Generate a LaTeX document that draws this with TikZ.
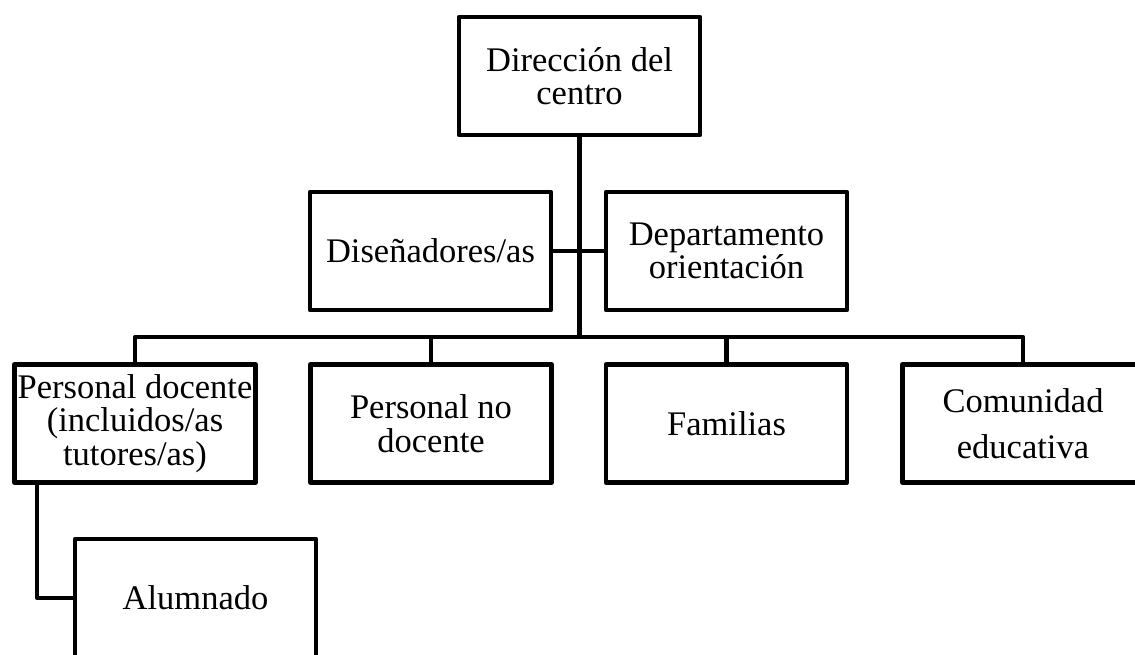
\documentclass[tikz,border=0pt]{standalone}
\usepackage{fontspec}
\setmainfont{Liberation Serif}
\begin{document}
\begin{tikzpicture}[x=1pt,y=-1pt,
  orgbox/.style={draw=black, line width=4.6pt, line join=round, fill=white,
    minimum width=241pt, minimum height=118pt, inner sep=0pt, align=center,
    font=\fontsize{34.5}{33.5}\selectfont},
  link/.style={draw=black, line width=4.4pt, line join=round}]
\path[use as bounding box] (0,0) rectangle (1135,655);
\clip (0,0) rectangle (1135,655);
\fill[white] (0,0) rectangle (1135,655);
\node[orgbox] (dir) at (579.5,76) {Dirección del\\centro};
\node[orgbox] (dis) at (430.5,251) {Diseñadores/as};
\node[orgbox] (dep) at (726.5,251) {Departamento\\orientación};
\node[orgbox] (pd) at (135,423.5) {Personal docente\\(incluidos/as\\tutores/as)};
\node[orgbox] (pnd) at (431,423.5) {Personal no\\docente};
\node[orgbox] (fam) at (726.5,423.5) {Familias};
\node[orgbox] (cm) at (1023,423.5) {Comunidad\\[12pt]educativa};
\node[orgbox] (al) at (195.5,598) {Alumnado};
\coordinate (j) at (579.5,337);
\draw[link] (dir.south) -- (j);
\draw[link] (dis.east) -- (dep.west);
\draw[link] (j) -| (pd.north);
\draw[link] (j) -| (pnd.north);
\draw[link] (j) -| (fam.north);
\draw[link] (j) -| (cm.north);
\draw[link] ([xshift=25pt]pd.south west) |- (al.west);
\end{tikzpicture}
\end{document}
